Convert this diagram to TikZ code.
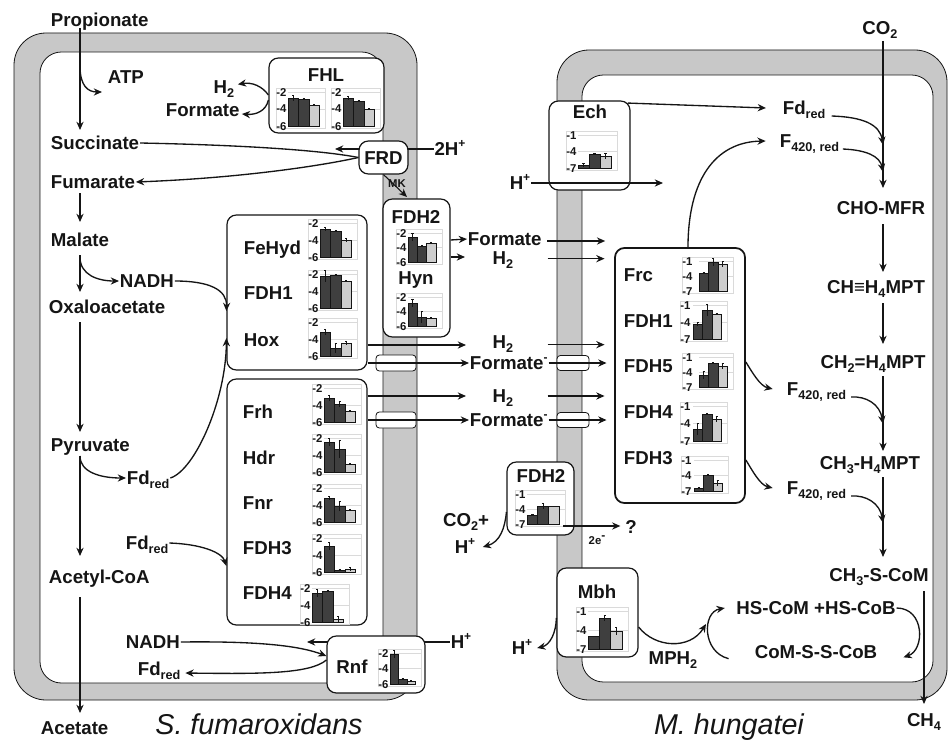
\documentclass[tikz,border=0pt]{standalone}
\usepackage{fontspec}
\setmainfont{Liberation Sans}
\usetikzlibrary{arrows.meta}
\pgfdeclarelayer{bg}
\pgfsetlayers{bg,main}
\definecolor{membr}{HTML}{C8C8C8}
\definecolor{bardark}{HTML}{3F3F3F}
\definecolor{barlight}{HTML}{CDCDCD}
\definecolor{gridc}{HTML}{DADADA}
\definecolor{ink}{HTML}{151515}
\newcommand\pxw[1]{#1*0.75pt}
\newcommand\lo[1]{\raisebox{-0.4ex}{\fontsize{9.5}{10}\selectfont #1}}
\newcommand\hi[1]{\raisebox{0.85ex}{\fontsize{9}{10}\selectfont #1}}
\tikzset{
  lab/.style={font=\bfseries\fontsize{14}{16}\selectfont, inner sep=0.5pt, text=ink, text height=10pt, text depth=0pt},
  box/.style={draw=ink, line width=0.9pt, rounded corners=7pt, fill=white, inner sep=0pt},
  arr/.style={draw=ink, line width=1pt, -{Stealth[length=6.2pt,width=5.4pt]}},
  ln/.style={draw=ink, line width=1pt},
  chan/.style={draw=ink, line width=0.6pt, rounded corners=2.5pt, fill=white, inner sep=0pt},
  tick/.style={font=\bfseries\fontsize{8.5}{8.5}\selectfont, inner sep=0.3pt, text=ink, text height=6pt, text depth=0pt},
  species/.style={font=\itshape\fontsize{21.5}{24}\selectfont, inner sep=0pt, text=ink, text height=15.4pt, text depth=0pt},
  gridl/.style={draw=gridc, line width=0.4pt},
  memb/.style={draw=ink, line width=0.6pt, fill=membr},
  innr/.style={draw=ink, line width=0.6pt, fill=white},
  small/.style={font=\bfseries\fontsize{8.5}{9}\selectfont, inner sep=0.3pt, text=ink},
}
% #1 x0 (bars start), #2 y bottom, #3 height, #4 bar width, #5 label gap, #6 list h/e
\newcommand\chart[6]{%
  \draw[gridl] ({#1-#5-11},{#2-#3-4}) rectangle ({#1+3*#4+6},{#2+2});
  \draw[gridl] (#1,{#2-#3}) -- ({#1+3*#4+6},{#2-#3});
  \draw[gridl] (#1,{#2-#3/2}) -- ({#1+3*#4+6},{#2-#3/2});
  \node[tick,anchor=east] at ({#1-#5},{#2-#3}) {\ctA};
  \node[tick,anchor=east] at ({#1-#5},{#2-#3/2}) {\ctB};
  \node[tick,anchor=east] at ({#1-#5},{#2}) {\ctC};
  \foreach \h/\e [count=\i] in {#6}{%
    \pgfmathsetmacro\xa{#1+(\i-1)*#4}%
    \pgfmathsetmacro\xb{#1+\i*#4}%
    \pgfmathsetmacro\xc{#1+(\i-0.5)*#4}%
    \ifnum\i=3 \def\bc{barlight}\else\def\bc{bardark}\fi
    \draw[draw=ink, line width=0.35pt, fill=\bc] (\xa,#2) rectangle (\xb,{#2-\h});
    \draw[draw=ink, line width=0.75pt] (\xc,{#2-\h-\e}) -- (\xc,{#2-\h+\e});
    \draw[draw=ink, line width=0.6pt] ({\xc-1.2},{#2-\h-\e}) -- ({\xc+1.2},{#2-\h-\e});
  }%
}
\begin{document}
\begin{tikzpicture}[x=0.75pt,y=-0.75pt]
\useasboundingbox (0,0) rectangle (949,742);
\begin{pgfonlayer}{bg}
\fill[white] (0,0) rectangle (949,742);
\draw[memb, rounded corners=24pt] (14,33) rectangle (417,700);
\draw[innr, rounded corners=16pt] (40,52) rectangle (383,683);
\draw[memb, rounded corners=24pt] (557,50) rectangle (947,700);
\draw[innr, rounded corners=16pt] (582,75) rectangle (933,682);
\end{pgfonlayer}
\coordinate (spine) at (80,0);
\coordinate (spineR) at (883,0);
\coordinate (spineC) at (924,0);

% ---------- text nodes, left cell
\node[lab, anchor=west] (prop) at (50,20) {Propionate};
\node[lab, anchor=west] (atp) at (107,77) {ATP};
\node[lab, anchor=west] (succ) at (50,143) {Succinate};
\node[lab, anchor=west] (fum) at (50,182) {Fumarate};
\node[lab, anchor=west] (mal) at (50,240) {Malate};
\node[lab, anchor=west] (nadh) at (119,281) {NADH};
\node[lab, anchor=west] (oxa) at (48,307) {Oxaloacetate};
\node[lab, anchor=west] (pyr) at (50,445) {Pyruvate};
\node[lab, anchor=west] (fdA) at (126,478) {Fd\lo{red}};
\node[lab, anchor=west] (fdB) at (125,543) {Fd\lo{red}};
\node[lab, anchor=west] (acet) at (48,577) {Acetyl-CoA};
\node[lab, anchor=west] (acetate) at (40,728) {Acetate};
\node[lab, anchor=west] (nadhB) at (125,642) {NADH};
\node[lab, anchor=west] (fdC) at (137,669) {Fd\lo{red}};
\node[lab] (hpR) at (461,642) {H\hi{+}};
\node[lab] (h2F) at (224,87) {H\lo{2}};
\node[lab, anchor=west] (formF) at (165,110) {Formate};
\node[lab] (h2p) at (450,149) {2H\hi{+}};
\node[species] (sf) at (259,724) {S. fumaroxidans};
\node[species] (mh) at (729,724) {M. hungatei};

% between cells
\node[lab, anchor=west] (fmA) at (467,239) {Formate};
\node[lab] (h2A) at (503,258) {H\lo{2}};
\node[lab] (h2B) at (503,342) {H\lo{2}};
\node[lab, anchor=west] (fmB) at (469,363) {Formate\hi{-}};
\node[lab] (h2C) at (503,396) {H\lo{2}};
\node[lab, anchor=west] (fmC) at (469,420) {Formate\hi{-}};

% ---------- channels
\node[chan, minimum width=\pxw{40}, minimum height=\pxw{16}] (chL1) at (396,363) {};
\node[chan, minimum width=\pxw{40}, minimum height=\pxw{16}] (chL2) at (396,420) {};
\node[chan, minimum width=\pxw{32}, minimum height=\pxw{15}] (chR1) at (573,363) {};
\node[chan, minimum width=\pxw{32}, minimum height=\pxw{15}] (chR2) at (573,420) {};

% ---------- boxes
\node[box, minimum width=\pxw{115}, minimum height=\pxw{75}] (fhl) at (326.5,95.5) {};
\node[box, lab, minimum width=\pxw{49}, minimum height=\pxw{33}, text height=10pt] (frd) at (383.5,157.5) {FRD};
\node[box, minimum width=\pxw{67}, minimum height=\pxw{138}] (fdhL) at (416.5,268) {};
\node[box, minimum width=\pxw{140}, minimum height=\pxw{155}] (boxA) at (297,292.5) {};
\node[box, minimum width=\pxw{140}, minimum height=\pxw{246}] (boxB) at (297,502) {};
\node[box, minimum width=\pxw{98}, minimum height=\pxw{57}] (rnf) at (376,664.5) {};
\node[box, minimum width=\pxw{81}, minimum height=\pxw{89}] (ech) at (589.5,145.5) {};
\node[box, line width=1.3pt, minimum width=\pxw{130}, minimum height=\pxw{255}] (frc) at (680,375.5) {};
\node[box, minimum width=\pxw{67}, minimum height=\pxw{73}] (fdhR) at (540.5,498.5) {};
\node[box, minimum width=\pxw{81}, minimum height=\pxw{89}] (mbh) at (597.5,612.5) {};

% lines running under boxes
\begin{pgfonlayer}{bg}
\draw[arr] (h2p.west) -- (335,149);
\draw[arr] (hpR.west) -- (307,642);
\end{pgfonlayer}

% ---------- box titles
\node[lab] (fhlt) at (326,75) {FHL};
\node[lab] (fdhLt) at (416,217) {FDH2};
\node[lab] (hynt) at (416,278) {Hyn};
\node[lab, anchor=west] (fehyd) at (243,248) {FeHyd};
\node[lab, anchor=west] (fdh1L) at (243,293) {FDH1};
\node[lab, anchor=west] (hox) at (243,340) {Hox};
\node[lab, anchor=west] (frh) at (242,412) {Frh};
\node[lab, anchor=west] (hdr) at (242,458) {Hdr};
\node[lab, anchor=west] (fnr) at (242,503) {Fnr};
\node[lab, anchor=west] (fdh3L) at (242,548) {FDH3};
\node[lab, anchor=west] (fdh4L) at (242,593) {FDH4};
\node[lab] (rnft) at (352,667) {Rnf};
\node[lab] (echt) at (590,112) {Ech};
\node[lab] (fdhRt) at (541,476) {FDH2};
\node[lab] (mbht) at (597,592) {Mbh};
\node[lab, anchor=west] (frct) at (623,275) {Frc};
\node[lab, anchor=west] (fdh1R) at (623,321) {FDH1};
\node[lab, anchor=west] (fdh5R) at (623,366) {FDH5};
\node[lab, anchor=west] (fdh4R) at (623,412) {FDH4};
\node[lab, anchor=west] (fdh3R) at (623,458) {FDH3};

% ---------- charts, left cell
\def\ctA{-2}\def\ctB{-4}\def\ctC{-6}
\chart{288}{126}{34}{10.5}{1}{28/3,27/1,21/1}
\chart{343}{126}{34}{10.5}{1}{28/2,25/1,17/1}
\chart{320}{257}{34}{10.5}{1}{28/2,26/1,17/2}
\chart{320}{308}{34}{10.5}{1}{32/6,33/1,27/1}
\chart{320}{356}{34}{10.5}{1}{24/3,8/5,13/2}
\chart{324}{422}{34}{10.5}{1}{24/3,18/3,11/1}
\chart{324}{472}{34}{10.5}{1}{30/4,23/9,8/1}
\chart{324}{522}{34}{10.5}{1}{24/2,16/5,12/1}
\chart{324}{572}{34}{10.5}{1}{26/4,2/1,3/2}
\chart{312}{622}{34}{10.5}{1}{29/4,31/1,3/3}
\chart{408}{262}{29}{9.3}{1}{25/4,16/1,19/1}
\chart{408}{326}{29}{9.3}{1}{23/4,9/6,8/1}
\chart{390}{684}{31}{8.5}{1}{30/4,5/1,3/1}
% ---------- charts, right cell
\def\ctA{-1}\def\ctB{-4}\def\ctC{-7}
\chart{578}{168}{33}{11}{1}{3/2,14/1,12/3}
\chart{699}{291}{30}{9.5}{6}{18/1,29/4,27/3}
\chart{693}{339}{34}{9.5}{2}{15/2,29/6,25/1}
\chart{699}{387}{30}{9.5}{6}{12/4,24/1,21/3}
\chart{693}{441}{35}{9.5}{2}{12/6,27/1,22/3}
\chart{694}{491}{31}{9.5}{2}{3/1,16/1,8/3}
\chart{527}{524}{30}{10.7}{1}{9/1,18/3,18/0}
\chart{588}{649}{38}{11.3}{1}{13/0,31/3,18/4}

% ---------- left cell connectors
\draw[arr] (spine|-0,28) -- (spine|-0,130);
\draw[arr] (spine|-0,66) .. controls (80,86) and (88,92) .. (102,92);
\draw[ln] (succ.east) .. controls (240,145) and (320,150) .. (frd.west);
\draw[arr] (frd.west) .. controls (320,166) and (240,178) .. (fum.east);
\draw[arr] (spine|-0,193) -- (spine|-0,222);
\draw[arr] (spine|-0,255) -- (spine|-0,292);
\draw[arr] (spine|-0,257) .. controls (80,275) and (98,281) .. (nadh.west);
\draw[arr] (nadh.east) .. controls (210,281) and (227,290) .. (boxA.west|-0,311);
\draw[arr] (spine|-0,322) -- (spine|-0,432);
\draw[arr] (spine|-0,456) .. controls (80,472) and (100,478) .. (fdA.west);
\draw[arr] (fdA.east) .. controls (195,470) and (226,400) .. (boxA.west|-0,338);
\draw[arr] (spine|-0,456) -- (spine|-0,556);
\draw[arr] (fdB.east) .. controls (200,544) and (222,552) .. (boxB.west|-0,566);
\draw[arr] (spine|-0,597) -- (spine|-0,713);
\draw[arr] (nadhB.east) .. controls (260,641) and (300,646) .. (rnf.west|-0,656);
\draw[arr] (rnf.west|-0,660) .. controls (310,674) and (260,674) .. ([xshift=3pt,yshift=-3pt]fdC.east);
\draw[arr] (fhl.west|-0,95) .. controls (262,86) and (252,82) .. ([xshift=2pt,yshift=2pt]h2F.east);
\draw[arr] (fhl.west|-0,100) .. controls (266,111) and (256,115) .. ([xshift=1pt,yshift=-3pt]formF.east);
\draw[arr, line width=0.8pt] (frd.south) -- (407,197);
\node[small] (mk) at (397,184) {MK};
% membrane transfers
\draw[arr] (fdhL.east|-0,240) -- (fmA.west);
\draw[arr] (fdhL.east|-0,257) -- (465,257);
\draw[arr] (boxA.east|-0,345) -- (466,345);
\draw[arr] (boxA.east|-fmB) -- (fmB.west);
\draw[arr] (boxB.east|-0,396) -- (466,396);
\draw[arr] (boxB.east|-fmC) -- (fmC.west);
\draw[arr] ([xshift=3.5pt,yshift=-1.5pt]fmA.east) -- ++(58,0);
\draw[arr] ([xshift=25pt,yshift=-0.5pt]h2A.east) -- ++(57,0);
\draw[arr] ([xshift=25pt,yshift=-2pt]h2B.east) -- ++(57,0);
\draw[arr] ([xshift=0pt]fmB.east) -- ++(58,0);
\draw[arr] ([xshift=25pt]h2C.east) -- ++(57,0);
\draw[arr] ([xshift=0pt]fmC.east) -- ++(58,0);

% ---------- right cell
\node[lab] (hpE) at (520,183) {H\hi{+}};
\draw[arr] (hpE.east) -- (663,183);
\node[lab, anchor=west] (fdR) at (782,108) {Fd\lo{red}};
\node[lab, anchor=west] (f420a) at (779,141) {F\lo{420, red}};
\node[lab] (co2) at (880,28) {CO\lo{2}};
\draw[arr] ([xshift=-2pt,yshift=-2pt]ech.north east) -- ([xshift=-12pt]fdR.west);
\draw[arr] (frc.north-|688,0) .. controls (688,180) and (715,142) .. ([xshift=-10pt]f420a.west);
\draw[arr] (spineR|-0,41) -- (spineR|-0,188);
\draw[arr] ([xshift=4pt,yshift=-6pt]fdR.east) .. controls (862,117) and (880,124) .. (spineR|-0,145);
\draw[arr] ([xshift=2pt,yshift=-6pt]f420a.east) .. controls (866,150) and (880,156) .. (spineR|-0,172);
\node[lab] (chomfr) at (881,208) {CHO-MFR};
\draw[arr] (spineR|-0,224) -- (spineR|-0,272);
\node[lab] (chh4) at (876,287) {CH≡H\lo{4}MPT};
\draw[arr] (spineR|-0,303) -- (spineR|-0,344);
\node[lab] (ch2) at (873,362) {CH\lo{2}=H\lo{4}MPT};
\node[lab, anchor=west] (f420b) at (786,389) {F\lo{420, red}};
\draw[arr] (frc.east|-0,362) .. controls (752,372) and (760,386) .. ([xshift=-10pt]f420b.west);
\draw[arr] (spineR|-0,376) -- (spineR|-0,451);
\draw[arr] ([xshift=3pt,yshift=-6pt]f420b.east) .. controls (866,396) and (880,404) .. (spineR|-0,424);
\node[lab] (ch3) at (870,463) {CH\lo{3}-H\lo{4}MPT};
\node[lab, anchor=west] (f420c) at (786,488) {F\lo{420, red}};
\draw[arr] (frc.east|-0,460) .. controls (752,470) and (760,485) .. ([xshift=-10pt]f420c.west);
\draw[arr] (spineR|-0,477) -- (spineR|-0,557);
\draw[arr] ([xshift=3pt,yshift=-6pt]f420c.east) .. controls (866,495) and (880,503) .. (spineR|-0,523);
\node[lab] (ch3s) at (879,575) {CH\lo{3}-S-CoM};
\draw[arr] (spineC|-0,591) -- (spineC|-0,704);
\node[lab] (ch4) at (924,720) {CH\lo{4}};
\node[lab] (hscom) at (816,608) {HS-CoM +HS-CoB};
\node[lab] (comss) at (816,652) {CoM-S-S-CoB};
\draw[arr] (hscom.east) .. controls (925,608) and (925,650) .. ([xshift=19pt,yshift=-4pt]comss.east);
\draw[arr] ([xshift=-19pt,yshift=-5pt]comss.west) .. controls (702,652) and (702,612) .. ([xshift=-8pt]hscom.west);
\node[lab] (mph) at (673,658) {MPH\lo{2}};
\draw[arr] (mbh.east|-0,627) .. controls (655,648) and (690,650) .. (706,624);
\node[lab] (hpM) at (522,648) {H\hi{+}};
\draw[arr] (mbh.west|-0,618) .. controls (556,633) and (550,645) .. ([xshift=3pt]hpM.east);
\node[lab] (co2p) at (466,520) {CO\lo{2}+};
\node[lab] (hpF) at (465,547) {H\hi{+}};
\draw[arr] (fdhR.west|-0,512) .. controls (505,528) and (500,542) .. ([xshift=5pt]hpF.east);
\node[lab] (qm) at (631,527) {?};
\coordinate (qstart) at (563,526);
\draw[arr, shorten >=3pt] (qstart) -- (qm.west|-qstart);
\node[small] (twoe) at (597,540) {2e\hi{-}};
\end{tikzpicture}
\end{document}
